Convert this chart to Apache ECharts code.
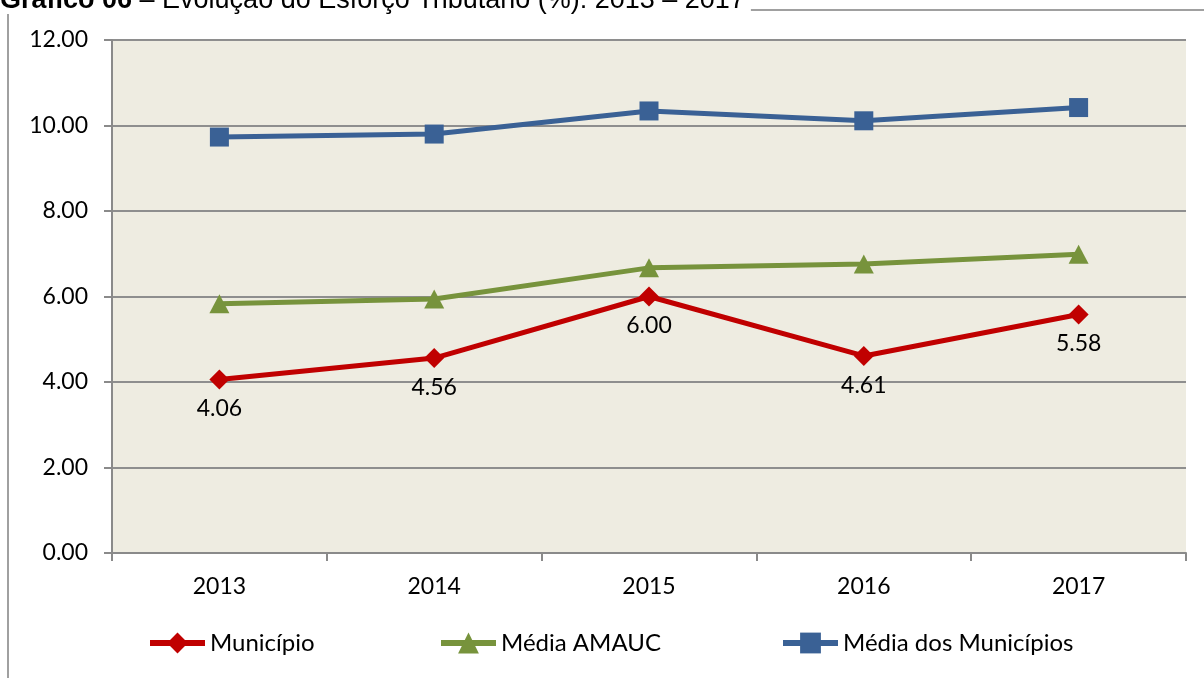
<!DOCTYPE html>
<html>
<head>
<meta charset="utf-8">
<script src="https://cdn.jsdelivr.net/npm/echarts@6/dist/echarts.min.js"></script>
<style>
  html, body { margin: 0; padding: 0; background: #fff; }
  #chart { width: 1204px; height: 678px; }
</style>
</head>
<body>
<div id="chart"></div>
<script>
// values
const years = ['2013', '2014', '2015', '2016', '2017'];
const municipio = [4.06, 4.56, 6.00, 4.61, 5.58];
const mediaAmauc = [5.83, 5.94, 6.67, 6.76, 6.99];
const mediaMunicipios = [9.73, 9.80, 10.34, 10.11, 10.42];
const seriesNames = ['Município', 'Média AMAUC', 'Média dos Municípios'];
const yMin = 0, yMax = 12, yStep = 2;

const labelFont = 'Lato';
const chart = echarts.init(document.getElementById('chart'));

const fmt = function (v) { return Number(v).toFixed(2); };

// one legend per entry, so each sits where Excel put it
const legendLefts = [147, 438, 780];
const legends = seriesNames.map(function (name, i) {
  return {
    data: [name],
    left: legendLefts[i],
    top: 631,
    itemWidth: 55,
    itemHeight: 26,
    padding: 0,
    lineStyle: { width: 6 },
    textStyle: { fontFamily: labelFont, fontSize: 24, color: '#000' }
  };
});

const option = {
  animation: false,
  backgroundColor: '#fff',
  title: {
    text: '{b|Gráfico 06}{n| – Evolução do Esforço Tributário (%): 2013 – 2017}',
    left: 0,
    top: -13,
    padding: [0, 6, 0, 0],
    backgroundColor: '#fff',
    textStyle: {
      fontWeight: 'normal',
      rich: {
        b: { fontFamily: 'Liberation Sans', fontSize: 27, fontWeight: 'bold', color: '#000' },
        n: { fontFamily: 'Liberation Sans', fontSize: 27, fontWeight: 'normal', color: '#000' }
      }
    }
  },
  graphic: [{
    type: 'rect',
    z: -1,
    shape: { x: 8, y: 10, width: 1400, height: 900 },
    style: { fill: 'none', stroke: '#a0a0a0', lineWidth: 2 }
  }],
  legend: legends,
  grid: {
    left: 112,
    right: 18,
    top: 40,
    bottom: 125,
    show: true,
    backgroundColor: '#EEECE1',
    borderWidth: 0
  },
  xAxis: {
    type: 'category',
    data: years,
    boundaryGap: true,
    axisLine: { lineStyle: { color: '#8a8a8a', width: 2 } },
    axisTick: { show: true, length: 8, lineStyle: { color: '#8a8a8a', width: 2 } },
    axisLabel: { margin: 22, fontFamily: labelFont, fontSize: 23, color: '#000' },
    splitLine: { show: false }
  },
  yAxis: {
    type: 'value',
    min: yMin,
    max: yMax,
    interval: yStep,
    axisLine: { show: true, lineStyle: { color: '#8a8a8a', width: 2 } },
    axisTick: { show: true, length: 8, lineStyle: { color: '#8a8a8a', width: 2 } },
    axisLabel: { margin: 24, fontFamily: labelFont, fontSize: 23, color: '#000', formatter: fmt },
    splitLine: { show: true, lineStyle: { color: '#8e8e8e', width: 2 } }
  },
  series: [
    {
      name: seriesNames[2],
      type: 'line',
      data: mediaMunicipios,
      symbol: 'rect',
      symbolSize: 19,
      lineStyle: { color: '#3A6195', width: 5, join: 'round' },
      itemStyle: { color: '#3A6195' },
      z: 2
    },
    {
      name: seriesNames[1],
      type: 'line',
      data: mediaAmauc,
      symbol: 'triangle',
      symbolSize: [20, 19],
      lineStyle: { color: '#77933C', width: 5, join: 'round' },
      itemStyle: { color: '#77933C' },
      z: 3
    },
    {
      name: seriesNames[0],
      type: 'line',
      data: municipio,
      symbol: 'diamond',
      symbolSize: 20,
      lineStyle: { color: '#C00000', width: 5, join: 'round' },
      itemStyle: { color: '#C00000' },
      label: {
        show: true,
        position: 'bottom',
        distance: 8,
        fontFamily: labelFont,
        fontSize: 23,
        color: '#000',
        formatter: function (p) { return fmt(p.value); }
      },
      z: 4
    }
  ]
};

chart.setOption(option);
</script>
</body>
</html>
